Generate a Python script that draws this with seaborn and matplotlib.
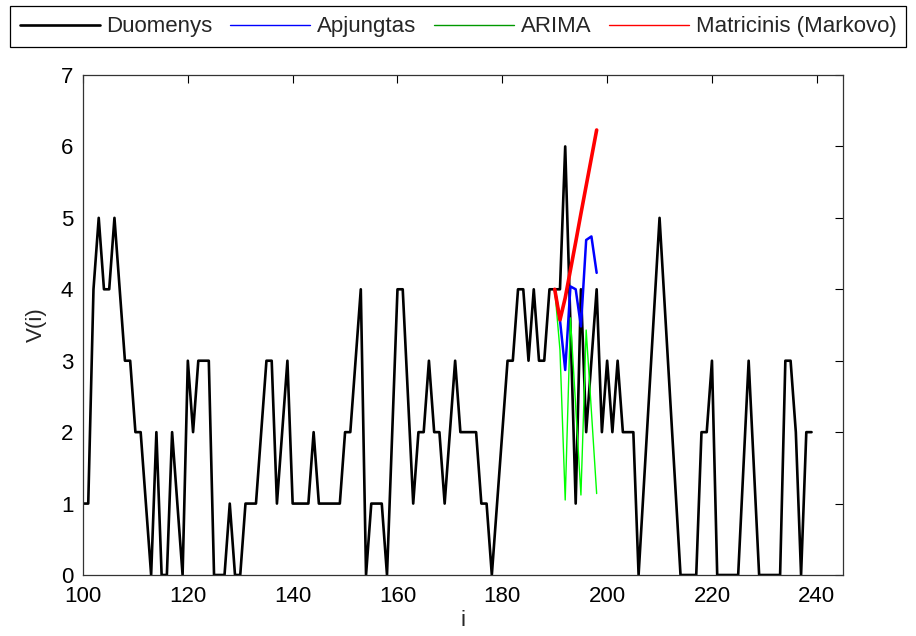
import matplotlib
matplotlib.use("Agg")
import matplotlib.pyplot as plt
import seaborn as sns
from matplotlib.lines import Line2D

# stebimi duomenys, i = 100..239
i_data = list(range(100, 240))
v_data = [1, 1, 4, 5, 4, 4, 5, 4, 3, 3,
          2, 2, 1, 0, 2, 0, 0, 2, 1, 0,
          3, 2, 3, 3, 3, 0, 0, 0, 1, 0,
          0, 1, 1, 1, 2, 3, 3, 1, 2, 3,
          1, 1, 1, 1, 2, 1, 1, 1, 1, 1,
          2, 2, 3, 4, 0, 1, 1, 1, 0, 2,
          4, 4, 2.5, 1, 2, 2, 3, 2, 2, 1,
          2, 3, 2, 2, 2, 2, 1, 1, 0, 1,
          2, 3, 3, 4, 4, 3, 4, 3, 3, 4,
          4, 4, 6, 3.5, 1, 4, 2, 3, 4, 2,
          3, 2, 3, 2, 2, 2, 0, 1.25, 2.5, 3.75,
          5, 3.75, 2.5, 1.25, 0, 0, 0, 0, 2, 2,
          3, 0, 0, 0, 0, 0, 1.5, 3, 1.5, 0,
          0, 0, 0, 0, 3, 3, 2, 0, 2, 2]

# prognozes nuo i = 190
i_prog = list(range(190, 199))
apjungtas = [4.0, 3.57, 2.87, 4.04, 4.0, 3.48, 4.69, 4.74, 4.23]
arima = [4.0, 3.15, 1.05, 3.6, 2.36, 1.12, 3.43, 2.29, 1.14]
markovo = [4.0, 3.57, 3.88, 4.27, 4.66, 5.06, 5.45, 5.84, 6.23]

sns.set_theme(style="white")
plt.rcParams["font.family"] = ["Liberation Sans", "DejaVu Sans"]

fig = plt.figure(figsize=(9.16, 6.36), dpi=100)
ax = fig.add_axes([83/916, 61/636, 760/916, 500/636])

sns.lineplot(x=i_data, y=v_data, color="black", lw=1.9, ax=ax)
sns.lineplot(x=i_prog, y=apjungtas, color=(0, 0, 1), lw=1.8, ax=ax)
sns.lineplot(x=i_prog, y=arima, color=(0, 1, 0), lw=1.0, ax=ax)
sns.lineplot(x=i_prog, y=markovo, color=(1, 0, 0), lw=2.6, ax=ax)

ax.set_xlim(100, 245)
ax.set_ylim(0, 7)
ax.set_xticks(range(100, 241, 20))
ax.set_yticks(range(0, 8))
ax.tick_params(direction="in", length=6, width=0.8, top=True, right=True,
               labelsize=16, colors="black")
ax.tick_params(axis="x", pad=8)
ax.tick_params(axis="y", pad=7)
for s in ax.spines.values():
    s.set_color("#333333")
    s.set_linewidth(0.9)
ax.set_xlabel("i", fontsize=16, labelpad=2)
ax.set_ylabel("V(i)", fontsize=16, labelpad=10)

handles = [Line2D([], [], color="black", lw=1.9),
           Line2D([], [], color=(0, 0, 1), lw=1.0),
           Line2D([], [], color=(0, 0.6, 0), lw=1.0),
           Line2D([], [], color=(1, 0, 0), lw=1.0)]
labels = ["Duomenys", "Apjungtas", "ARIMA", "Matricinis (Markovo)"]
leg = fig.legend(handles, labels, loc="upper center", bbox_to_anchor=(0.5, 0.997),
                 ncol=4, fontsize=16, frameon=True, fancybox=False,
                 edgecolor="black", framealpha=1, handlelength=3.6,
                 handletextpad=0.3, columnspacing=0.8, borderpad=0.45,
                 borderaxespad=0.2)
leg.get_frame().set_linewidth(0.9)

fig.savefig("out.png", dpi=100)
